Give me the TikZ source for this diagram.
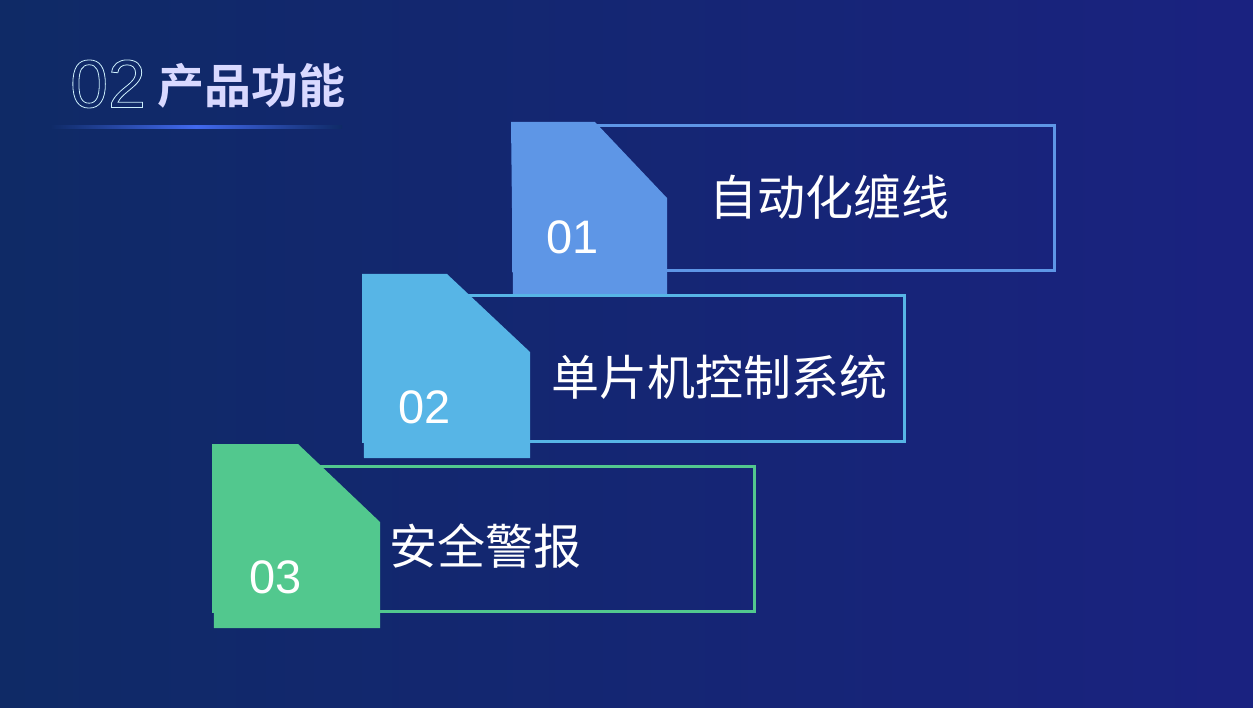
\documentclass[tikz,border=0pt]{standalone}
\usepackage{fontspec}
\newfontfamily\cjk{Noto Sans CJK SC}
\newfontfamily\cjkb{Noto Sans CJK SC Bold}
\setmainfont{Liberation Sans}
\definecolor{bgL}{HTML}{0F2A66}
\definecolor{bgR}{HTML}{1A2280}
\definecolor{cA}{HTML}{5E96E6}
\definecolor{cB}{HTML}{57B5E6}
\definecolor{cC}{HTML}{52C88E}
\tikzset{
  frame/.style={line width=3pt},
  num/.style={text=white,font=\fontsize{47}{47}\selectfont},
  lbl/.style={text=white,anchor=west,font=\cjk\fontsize{48}{48}\selectfont}
}
\begin{document}
\begin{tikzpicture}[x=1pt,y=-1pt]
\shade[left color=bgL,right color=bgR] (0,0) rectangle (1253,708);
\useasboundingbox (0,0) rectangle (1253,708);
% title
\node[anchor=west,inner sep=0,text=white!80!cyan] (t0) at (70,84)
  {\fontsize{68}{68}\selectfont\special{pdf:literal direct 1 Tr 0.8 w}02\special{pdf:literal direct 0 Tr}};
\node[anchor=west,inner sep=0,text=white!85!blue] (t1) at (157,86)
  {\cjkb\fontsize{47}{47}\selectfont 产品功能};
\shade[left color=bgL,right color=bgL,middle color=cA!70!blue] (50,126) rectangle (342,128.5);
% card 1
\draw[frame,cA] (513,126) rectangle (1054,271);
\fill[cA] (511,122) -- (595,122) -- (667,198) -- (667,295) -- (513,295) -- cycle;
\node[num] (n1) at (573,237) {01};
\node[lbl] (l1) at (706,197) {自动化缠线};
% card 2
\draw[frame,cB] (363,296) rectangle (904,441);
\fill[cB] (362,274) -- (447,274) -- (530,352) -- (530,458) -- (364,458) -- cycle;
\node[num] (n2) at (425,407) {02};
\node[lbl] (l2) at (548,377) {单片机控制系统};
% card 3
\draw[frame,cC] (213,466) rectangle (754,611);
\fill[cC] (212,444) -- (298,444) -- (380,522) -- (380,628) -- (214,628) -- cycle;
\node[num] (n3) at (276,577) {03};
\node[lbl] (l3) at (386,546) {安全警报};
\end{tikzpicture}
\end{document}
